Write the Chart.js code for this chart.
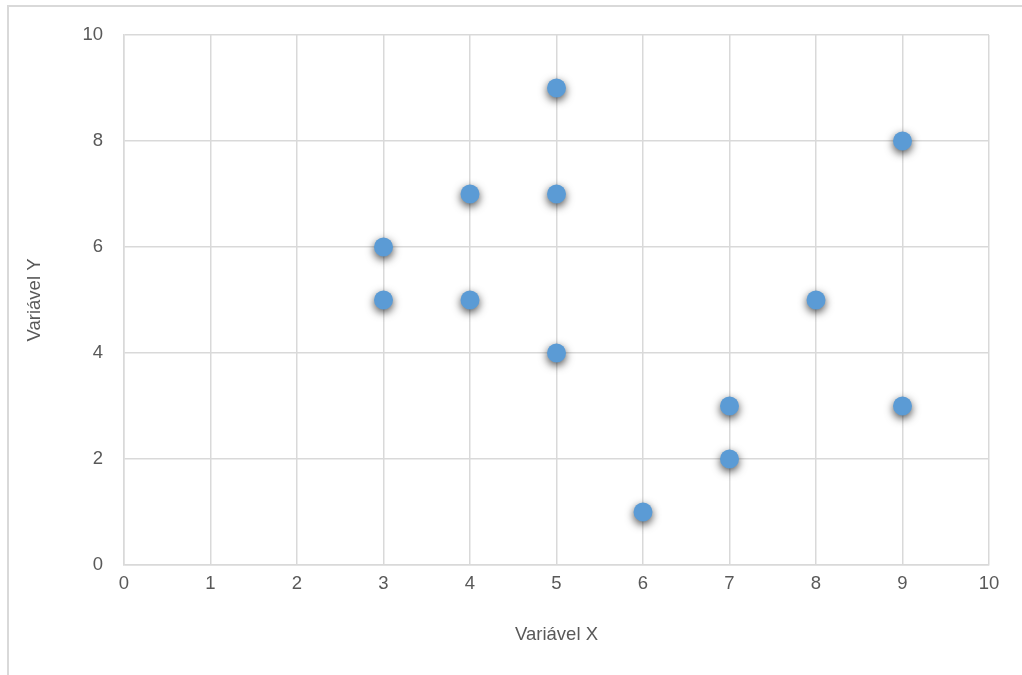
<!DOCTYPE html>
<html>
<head>
<meta charset="utf-8">
<script src="https://cdn.jsdelivr.net/npm/chart.js@4"></script>
<style>
html, body { margin: 0; padding: 0; background: #fff; overflow: hidden; }
#wrap { width: 1022px; height: 675px; }
</style>
</head>
<body>
<div id="wrap"><canvas id="myChart" width="1022" height="675"></canvas></div>
<script>
const xValues = [3, 3, 4, 4, 5, 5, 5, 6, 7, 7, 8, 9, 9];
const yValues = [6, 5, 7, 5, 9, 7, 4, 1, 3, 2, 5, 8, 3];
const xTitle = 'Variável X';
const yTitle = 'Variável Y';

const points = xValues.map((x, i) => ({ x: x, y: yValues[i] }));

// outer frame of the chart (top + left edges visible)
const framePlugin = {
    id: 'frame',
    beforeDraw(chart) {
        const c = chart.ctx;
        c.save();
        c.strokeStyle = '#d9d9d9';
        c.lineWidth = 2;
        c.beginPath();
        c.moveTo(8, 700);
        c.lineTo(8, 6);
        c.lineTo(1030, 6);
        c.stroke();
        c.restore();
    }
};
// soft shadow under markers
const shadowPlugin = {
    id: 'markerShadow',
    beforeDatasetDraw(chart) {
        const c = chart.ctx;
        c.save();
        c.shadowColor = 'rgba(0,0,0,0.7)';
        c.shadowBlur = 8;
        c.shadowOffsetX = 0;
        c.shadowOffsetY = 3;
    },
    afterDatasetDraw(chart) {
        chart.ctx.restore();
    }
};

const tickFont = { family: 'Liberation Sans', size: 18.5 };
const config = {
    type: 'scatter',
    data: {
        datasets: [{
            data: points,
            backgroundColor: '#5b9bd5',
            borderColor: '#5b9bd5',
            borderWidth: 0,
            pointRadius: 9.5,
            pointHoverRadius: 9.5
        }]
    },
    options: {
        responsive: false,
        animation: false,
        layout: { padding: { top: 35, right: 33, left: 0, bottom: 27 } },
        plugins: { legend: { display: false }, tooltip: { enabled: false } },
        scales: {
            x: {
                type: 'linear',
                min: 0, max: 10,
                ticks: { stepSize: 1, color: '#595959', font: tickFont, padding: 8 },
                grid: { color: '#d9d9d9', lineWidth: 1.5, drawTicks: false },
                border: { color: '#d9d9d9', width: 1.5 },
                title: { display: true, text: xTitle, color: '#595959', font: tickFont, padding: { top: 14, bottom: 2 } },
                afterFit(scale) { scale.height = 83; }
            },
            y: {
                min: 0, max: 10,
                ticks: { stepSize: 2, color: '#595959', font: tickFont, padding: 21 },
                grid: { color: '#d9d9d9', lineWidth: 1.5, drawTicks: false },
                border: { color: '#d9d9d9', width: 1.5 },
                title: { display: true, text: yTitle, color: '#595959', font: tickFont, padding: { top: 24 } },
                afterFit(scale) { scale.width = 124; }
            }
        }
    },
    plugins: [framePlugin, shadowPlugin]
};
const myChart = new Chart(document.getElementById('myChart'), config);
</script>
</body>
</html>
